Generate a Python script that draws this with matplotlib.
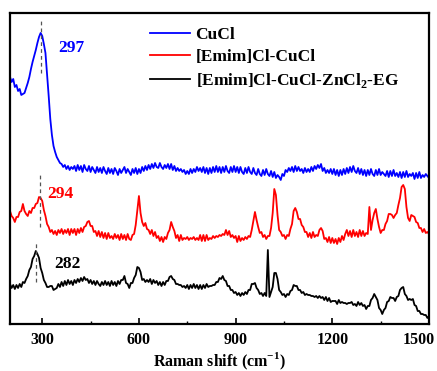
import numpy as np
import matplotlib.pyplot as plt
from matplotlib.ticker import MultipleLocator
from matplotlib.transforms import ScaledTranslation

plt.rcParams['font.family'] = ['Liberation Serif', 'DejaVu Serif']
plt.rcParams['font.weight'] = 'bold'
plt.rcParams['mathtext.fontset'] = 'custom'
plt.rcParams['mathtext.rm'] = 'Liberation Serif:bold'
plt.rcParams['mathtext.bf'] = 'Liberation Serif:bold'

# Raman shift grid, cm-1 (one point every 5 cm-1)
shift = np.arange(200, 1501, 5)

# CuCl (offset intensity, a.u.)
cucl = [
    247, 242, 245, 237, 239, 233, 235, 229, 230, 231, 236, 241, 247, 255, 262, 268, 274, 281, 287, 291,
    288, 280, 271, 250, 228, 205, 189, 178, 172, 167, 164, 161, 160, 157, 159, 155, 158, 154, 157, 155,
    158, 153, 159, 154, 158, 152, 159, 155, 153, 158, 152, 157, 154, 151, 157, 152, 156, 151, 157, 153,
    150, 156, 151, 155, 150, 156, 153, 149, 155, 151, 154, 157, 151, 155, 152, 149, 155, 151, 156, 150,
    155, 151, 157, 153, 158, 154, 159, 155, 160, 156, 161, 157, 156, 161, 157, 155, 159, 156, 160, 155,
    160, 154, 158, 153, 156, 153, 155, 152, 154, 150, 153, 150, 155, 151, 155, 152, 157, 153, 156, 152,
    157, 151, 156, 150, 156, 151, 157, 152, 158, 152, 157, 151, 157, 152, 158, 153, 151, 157, 152, 158,
    152, 157, 151, 157, 152, 150, 156, 151, 157, 152, 150, 156, 151, 149, 155, 150, 148, 154, 149, 155,
    150, 148, 153, 147, 152, 146, 149, 147, 144, 150, 148, 154, 152, 156, 153, 157, 152, 158, 153, 157,
    153, 155, 151, 156, 152, 155, 152, 157, 153, 158, 155, 159, 156, 160, 153, 156, 151, 154, 151, 155,
    150, 155, 149, 154, 148, 154, 149, 155, 150, 156, 151, 157, 152, 158, 153, 151, 156, 150, 155, 149,
    154, 148, 154, 149, 155, 150, 148, 154, 149, 155, 149, 152, 150, 148, 153, 147, 153, 148, 154, 148,
    151, 147, 152, 146, 152, 147, 153, 147, 150, 148, 151, 145, 151, 146, 152, 146, 149, 147, 150, 148,
    146,
]

# [Emim]Cl-CuCl
emim_cucl = [
    113, 108, 106, 102, 107, 107, 112, 113, 120, 113, 110, 108, 113, 111, 116, 116, 120, 121, 127, 126,
    123, 114, 108, 100, 97, 92, 94, 90, 93, 89, 94, 91, 95, 90, 94, 91, 95, 89, 95, 91,
    95, 89, 95, 91, 96, 92, 97, 98, 102, 103, 98, 98, 92, 93, 88, 93, 87, 92, 86, 91,
    85, 91, 86, 88, 85, 90, 86, 89, 84, 90, 85, 89, 84, 90, 85, 84, 89, 90, 99, 114,
    128, 111, 102, 98, 101, 95, 94, 90, 94, 88, 92, 86, 88, 83, 87, 82, 87, 85, 91, 94,
    102, 97, 93, 86, 89, 83, 89, 84, 86, 85, 87, 84, 86, 85, 87, 84, 86, 84, 89, 83,
    89, 83, 89, 84, 86, 85, 88, 86, 88, 87, 89, 88, 90, 89, 94, 89, 93, 87, 89, 86,
    88, 82, 88, 83, 86, 84, 87, 85, 88, 87, 94, 103, 112, 104, 97, 91, 92, 87, 89, 85,
    88, 88, 96, 111, 135, 129, 109, 94, 92, 88, 89, 85, 89, 88, 95, 100, 113, 116, 112, 105,
    105, 99, 97, 92, 92, 87, 91, 86, 92, 87, 89, 88, 94, 96, 93, 85, 86, 82, 87, 81,
    86, 81, 85, 80, 86, 82, 88, 84, 90, 94, 88, 93, 87, 94, 88, 92, 87, 94, 88, 93,
    88, 91, 90, 117, 94, 104, 111, 115, 105, 97, 91, 94, 94, 100, 103, 110, 110, 109, 106, 109,
    111, 119, 126, 137, 139, 135, 117, 106, 103, 109, 108, 107, 102, 101, 96, 96, 92, 95, 91, 92,
    90,
]

# [Emim]Cl-CuCl-ZnCl2-EG
emim_zn_eg = [
    40, 36, 39, 35, 39, 36, 40, 37, 42, 41, 45, 48, 54, 57, 65, 68, 73, 70, 66, 56,
    51, 44, 41, 37, 37, 38, 38, 34, 35, 36, 40, 37, 42, 38, 43, 39, 44, 40, 43, 39,
    44, 41, 45, 42, 46, 43, 47, 44, 45, 41, 44, 40, 43, 39, 43, 40, 38, 42, 39, 43,
    39, 42, 38, 43, 39, 42, 38, 43, 40, 44, 44, 48, 41, 40, 36, 41, 41, 46, 49, 57,
    56, 52, 44, 45, 42, 44, 42, 45, 40, 44, 41, 43, 39, 42, 38, 42, 39, 43, 43, 47,
    48, 45, 44, 40, 40, 39, 39, 37, 38, 36, 39, 35, 39, 36, 40, 36, 39, 35, 39, 35,
    39, 36, 40, 37, 38, 38, 39, 39, 42, 42, 46, 45, 48, 44, 43, 38, 38, 34, 34, 31,
    32, 29, 31, 28, 31, 29, 32, 30, 34, 34, 40, 40, 41, 36, 34, 30, 31, 28, 31, 28,
    74, 27, 32, 37, 51, 51, 45, 34, 32, 29, 30, 27, 30, 29, 33, 34, 39, 38, 38, 34,
    34, 31, 32, 29, 30, 29, 29, 28, 28, 27, 28, 26, 28, 26, 27, 24, 27, 23, 26, 22,
    23, 23, 23, 20, 24, 21, 22, 21, 21, 20, 21, 21, 22, 19, 20, 18, 22, 19, 21, 18,
    19, 15, 18, 18, 24, 26, 30, 27, 24, 16, 14, 10, 14, 16, 22, 23, 27, 26, 26, 23,
    27, 28, 34, 36, 37, 30, 28, 24, 25, 24, 25, 19, 18, 13, 13, 10, 10, 9, 9, 6,
    8,
]

labels = ['CuCl', '[Emim]Cl-CuCl', r'[Emim]Cl-CuCl-ZnCl$_\mathbf{2}$-EG']
colors = ['#0000ff', '#ff0000', '#000000']
xticks = [300, 600, 900, 1200, 1500]

# peak markers: position, dashed segment (bottom, top), label position
peaks = [297, 294, 282]
dash_ranges = [(251, 306), (97, 151), (42, 81)]
peak_text_pos = [(389, 276), (355, 130), (377, 60)]

fig = plt.figure(figsize=(4.37, 3.71), dpi=100)
ax = fig.add_axes([0.0229, 0.1267, 0.9588, 0.8383])

for y, lab, c in zip([cucl, emim_cucl, emim_zn_eg], labels, colors):
    ax.plot(shift, y, color=c, lw=1.3, label=lab)

for p, (y0, y1), (tx, ty), c in zip(peaks, dash_ranges, peak_text_pos, colors):
    ax.plot([p, p], [y0, y1], color='#555555', ls=(0, (3, 2.5)), lw=0.9)
    ax.text(tx, ty, str(p), color=c, fontsize=12.5, fontweight='bold',
            ha='center', va='center')

ax.set_xlim(200, 1500)
ax.set_ylim(0, 311)
ax.set_yticks([])
ax.set_xticks(xticks)
# the last label sits a little left of its tick so it stays inside the figure
ax.set_xticklabels([str(t) for t in xticks[:-1]] + [''])
ax.text(xticks[-1], 0, str(xticks[-1]), fontsize=11.5, fontweight='bold',
        ha='center', va='top',
        transform=ax.get_xaxis_transform()
        + ScaledTranslation(-0.1, -6 / 72, fig.dpi_scale_trans))
ax.xaxis.set_minor_locator(MultipleLocator(150))
ax.tick_params(axis='x', which='major', direction='in', length=4, width=1.2,
               labelsize=11.5, pad=6)
ax.tick_params(axis='x', which='minor', direction='in', length=2.5, width=1.0)
for s in ax.spines.values():
    s.set_linewidth(1.6)

ax.set_xlabel(r'Raman shift (cm$^{\mathbf{-1}}$)', fontsize=11.5, fontweight='bold',
              labelpad=2)

ax.legend(loc='upper left', bbox_to_anchor=(0.335, 0.955), frameon=False,
          fontsize=12.5, handlelength=2.3, handletextpad=0.3, labelspacing=0.35,
          borderpad=0, borderaxespad=0)

fig.savefig('out.png', dpi=100)
